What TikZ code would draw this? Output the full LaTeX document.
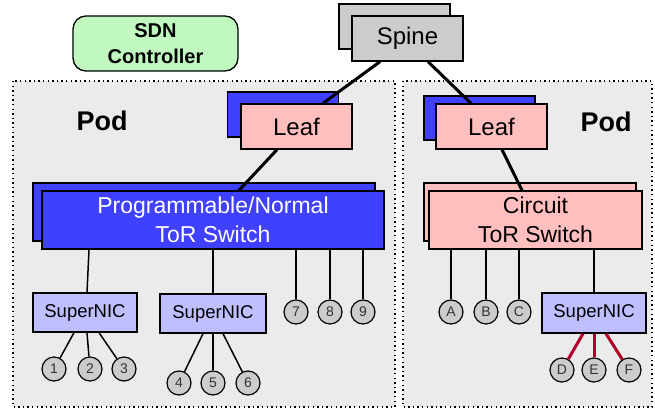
\documentclass[tikz,border=0pt]{standalone}
\usepackage{fontspec}
\setmainfont{Liberation Sans}
\usetikzlibrary{positioning}
\definecolor{podgray}{HTML}{EBEBEB}
\definecolor{spinegray}{HTML}{CCCCCC}
\definecolor{torblue}{HTML}{4040FF}
\definecolor{leafpink}{HTML}{FFBFBF}
\definecolor{niclav}{HTML}{BFBFFF}
\definecolor{ctrlgreen}{HTML}{C0F8C0}
\definecolor{hostgray}{HTML}{CCCCCC}
\definecolor{linkred}{HTML}{B0002A}
\definecolor{labelgray}{HTML}{333333}
\tikzset{
  box/.style={draw=black, line width=1.3pt, inner sep=0pt, align=center},
  spinebox/.style={box, fill=spinegray, minimum width=111pt, minimum height=45pt,
    font=\fontsize{24}{29}\selectfont},
  leafbox/.style={box, fill=leafpink, minimum width=111pt, minimum height=45pt,
    font=\fontsize{24}{29}\selectfont},
  blueback/.style={box, fill=torblue, minimum width=111pt, minimum height=45pt},
  torblu/.style={box, fill=torblue, minimum width=342pt, minimum height=58pt,
    text=white, font=\fontsize{23}{29}\selectfont},
  torpink/.style={box, fill=leafpink, minimum width=212pt, minimum height=58pt,
    font=\fontsize{23}{29}\selectfont},
  nicbox/.style={box, fill=niclav, minimum height=39pt,
    font=\fontsize{18.5}{22}\selectfont},
  host/.style={circle, draw=black, line width=1.2pt, fill=hostgray, minimum size=24pt,
    inner sep=0pt, text=labelgray, font=\fontsize{14}{16}\selectfont},
  pod/.style={fill=podgray, draw=black, line width=1.4pt, dash pattern=on 1.4pt off 3.2pt},
  podlabel/.style={font=\bfseries\fontsize{27}{32}\selectfont},
  uplink/.style={line width=3pt},
  downlink/.style={line width=1.5pt},
  redlink/.style={line width=3pt, draw=linkred},
}
\begin{document}
\begin{tikzpicture}[x=1pt, y=-1pt]
\useasboundingbox (0,0) rectangle (655,409);

% pods
\draw[pod] (13,81) rectangle (395,407);
\draw[pod] (403,81) rectangle (652,407);
\node[podlabel] (podL) at (102,121) {Pod};
\node[podlabel] (podR) at (606,122) {Pod};

% SDN controller
\node[box, fill=ctrlgreen, rounded corners=13pt, minimum width=165pt, minimum height=55pt,
      font=\bfseries\fontsize{20}{26}\selectfont] (sdn) at (155.5,43.5) {SDN\\Controller};

% spine
\node[spinebox] (spineB) at (394.5,26.5) {};
\node[spinebox] (spineF) at (407.5,38.5) {Spine};

% leaves
\node[blueback] (leafLB) at (283,114.5) {};
\node[leafbox] (leafLF) at (296.5,126.5) {Leaf};
\node[blueback, minimum height=44pt] (leafRB) at (479.5,118) {};
\node[leafbox] (leafRF) at (491.5,126.5) {Leaf};

% ToR switches
\node[torblu] (torLB) at (204,212) {};
\node[torblu] (torLF) at (213,220) {Programmable/Normal\\ToR Switch};
\node[torpink] (torRB) at (530,212) {};
\node[torpink, minimum width=213pt] (torRF) at (535.5,220) {Circuit\\ToR Switch};

% SuperNICs
\node[nicbox, minimum width=104pt] (nic1) at (85,312.5) {SuperNIC};
\node[nicbox, minimum width=106pt] (nic2) at (213,313.5) {SuperNIC};
\node[nicbox, minimum width=104pt, minimum height=40pt] (nic3) at (594,313) {SuperNIC};

% hosts
\node[host] (h1) at (54,369) {1};
\node[host] (h2) at (90,369) {2};
\node[host] (h3) at (124,369) {3};
\node[host] (h4) at (179,383) {4};
\node[host] (h5) at (213,383) {5};
\node[host] (h6) at (248,383) {6};
\node[host] (h7) at (296,312) {7};
\node[host] (h8) at (330,312) {8};
\node[host] (h9) at (363,312) {9};
\node[host] (hA) at (451,312) {A};
\node[host] (hB) at (486,312) {B};
\node[host] (hC) at (519,312) {C};
\node[host] (hD) at (562,370) {D};
\node[host] (hE) at (594,370) {E};
\node[host] (hF) at (629,370) {F};

% spine to leaf
\draw[uplink] ([xshift=-27.5pt]spineF.south) -- ([xshift=26.5pt]leafLF.north);
\draw[uplink] ([xshift=20.5pt]spineF.south) -- ([xshift=-20.5pt]leafRF.north);
% leaf to ToR
\draw[uplink] ([xshift=-19.5pt]leafLF.south) -- ([xshift=26pt]torLF.north);
\draw[uplink] ([xshift=10.5pt]leafRF.south) -- ([xshift=-13.5pt]torRF.north);

% ToR to SuperNICs and hosts
\draw[downlink] ([xshift=-124pt]torLF.south) -- ([xshift=2pt]nic1.north);
\draw[downlink] (torLF.south -| nic2.north) -- (nic2.north);
\draw[downlink] (torLF.south -| h7) -- (h7);
\draw[downlink] (torLF.south -| h8) -- (h8);
\draw[downlink] (torLF.south -| h9) -- (h9);
\draw[downlink] (torRF.south -| hA) -- (hA);
\draw[downlink] (torRF.south -| hB) -- (hB);
\draw[downlink] (torRF.south -| hC) -- (hC);
\draw[downlink] (torRF.south -| nic3.north) -- (nic3.north);

% SuperNIC to hosts
\draw[downlink] ([xshift=-11pt]nic1.south) -- (h1);
\draw[downlink] ([xshift=2pt]nic1.south) -- (h2);
\draw[downlink] ([xshift=14pt]nic1.south) -- (h3);
\draw[downlink] ([xshift=-10pt]nic2.south) -- (h4);
\draw[downlink] (nic2.south) -- (h5);
\draw[downlink] ([xshift=10pt]nic2.south) -- (h6);
\draw[redlink] ([xshift=-11pt]nic3.south) -- (hD);
\draw[redlink] (nic3.south) -- (hE);
\draw[redlink] ([xshift=12pt]nic3.south) -- (hF);
\end{tikzpicture}
\end{document}
